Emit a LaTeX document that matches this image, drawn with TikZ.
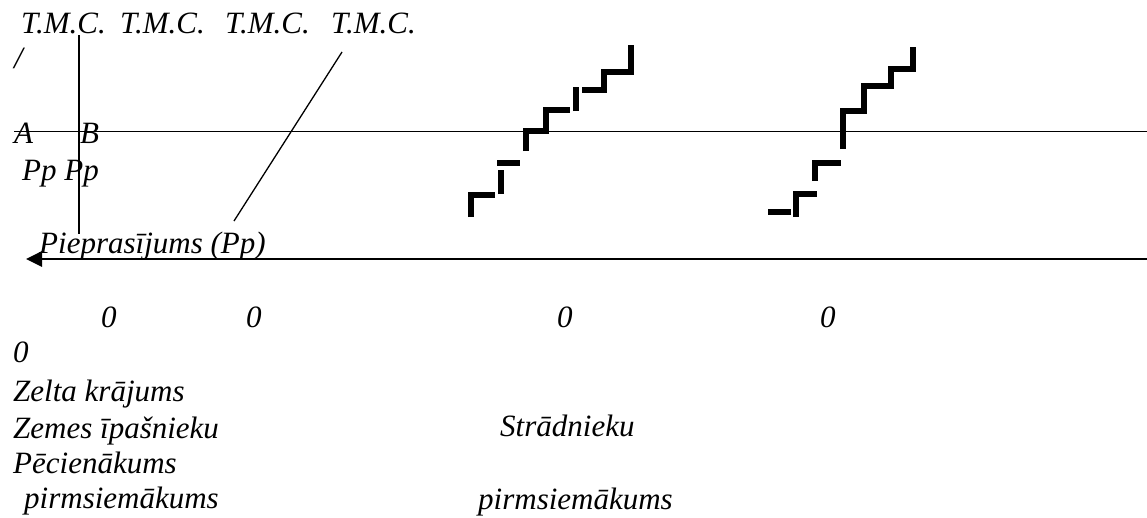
\documentclass[tikz,border=0pt]{standalone}
\usepackage{fontspec}
\setmainfont{Liberation Serif}
\newfontfamily\figfont{Liberation Serif Italic}
\usetikzlibrary{arrows.meta}

\begin{document}
\begin{tikzpicture}[
    x=1pt, y=-1pt,
    lbl/.style={font=\figfont\fontsize{31}{36}\selectfont, inner sep=0pt, anchor=base west},
    axis/.style={line width=1.3pt},
    stair/.style={line width=5.5pt, line cap=butt, line join=miter},
    flow/.style={-{Triangle[length=16pt, width=15pt]}, line width=2.8pt}
  ]
  \useasboundingbox (0,0) rectangle (1147,517);

  % labels on top
  \node[lbl] (tmcA) at (21,33) {T.M.C.};
  \node[lbl] (tmcB) at (120,33) {T.M.C.};
  \node[lbl] (tmcC) at (225,33) {T.M.C.};
  \node[lbl] (tmcD) at (331,33) {T.M.C.};
  \node[lbl] (slash) at (14,68) {/};
  \node[lbl] (labA) at (14,143) {A};
  \node[lbl] (labB) at (80,143) {B};
  \node[lbl] (pp) at (22,180) {Pp Pp};
  \node[lbl] (demand) at (39,253) {Pieprasījums (Pp)};

  % axes
  \draw[axis] (79,35) -- (79,234);
  \draw[axis] (14,131.3) -- (1147,131.3);
  \draw[axis] (342,52) -- (234,221);
  \draw[flow] (1147,259) -- (26,259);

  % first staircase
  \draw[stair] (471,217) -- (471,195) -- (495,195);
  \draw[stair] (501,194) -- (501,170);
  \draw[stair] (497,163) -- (520,163);
  \draw[stair] (526,151) -- (526,131) -- (546,131) -- (546,110) -- (570,110);
  \draw[stair] (576,111) -- (576,87);
  \draw[stair] (582,90) -- (604,90) -- (604,72) -- (631,72) -- (631,45);

  % second staircase
  \draw[stair] (768,212) -- (791,212);
  \draw[stair] (796,217) -- (796,194) -- (817,194);
  \draw[stair] (815,181) -- (815,163) -- (841,163);
  \draw[stair] (843,149) -- (843,111) -- (864,111) -- (864,86) -- (891,86)
    -- (891,69) -- (913,69) -- (913,47);

  % zeros
  \node[lbl] (zeroA) at (101,327) {0};
  \node[lbl] (zeroB) at (246,327) {0};
  \node[lbl] (zeroC) at (557,327) {0};
  \node[lbl] (zeroD) at (820,327) {0};
  \node[lbl] (zeroE) at (13,362) {0};

  % bottom texts
  \node[lbl] (gold) at (13,401.5) {Zelta krājums};
  \node[lbl] (landlord) at (13,438) {Zemes īpašnieku};
  \node[lbl] (fee) at (13,473) {Pēcienākums};
  \node[lbl] (preincA) at (24,508) {pirmsiemākums};
  \node[lbl] (workers) at (500,436) {Strādnieku};
  \node[lbl] (preincB) at (478,509) {pirmsiemākums};
\end{tikzpicture}
\end{document}
